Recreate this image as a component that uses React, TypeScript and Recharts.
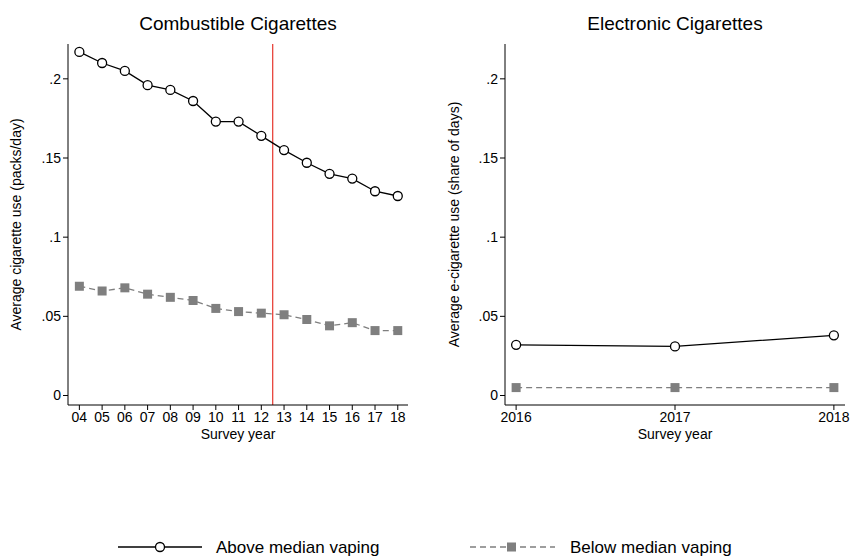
import React from 'react';
import { LineChart, Line, XAxis, YAxis, ReferenceLine } from 'recharts';

const years = [4, 5, 6, 7, 8, 9, 10, 11, 12, 13, 14, 15, 16, 17, 18];
const combAbove = [0.217, 0.21, 0.205, 0.196, 0.193, 0.186, 0.173, 0.173, 0.164, 0.155, 0.147, 0.14, 0.137, 0.129, 0.126];
const combBelow = [0.069, 0.066, 0.068, 0.064, 0.062, 0.06, 0.055, 0.053, 0.052, 0.051, 0.048, 0.044, 0.046, 0.041, 0.041];
const ecigYears = [2016, 2017, 2018];
const ecigAbove = [0.032, 0.031, 0.038];
const ecigBelow = [0.005, 0.005, 0.005];
const yTicks = [0, 0.05, 0.1, 0.15, 0.2];

const combData = years.map((y, i) => ({ year: y, above: combAbove[i], below: combBelow[i] }));
const ecigData = ecigYears.map((y, i) => ({ year: y, above: ecigAbove[i], below: ecigBelow[i] }));

const font = '"Liberation Sans", Arial, sans-serif';
const GRAY = '#7f7f7f';
const fmtY = (v: number) => (v === 0 ? '0' : String(v).replace(/^0/, ''));
const tickStyle = { fontSize: 14, fill: '#000', fontFamily: font };

const Circle = (p: any) => (
  <circle cx={p.cx} cy={p.cy} r={4.5} fill="#fff" stroke="#000" strokeWidth={1.3} />
);
const Square = (p: any) => (
  <rect x={p.cx - 4.5} y={p.cy - 4.5} width={9} height={9} fill={GRAY} />
);

function Panel(props: any) {
  const { data, xDomain, xTicks, xFmt, yLabel, ylWidth, ylOffset, width, red } = props;
  return (
    <LineChart width={width} height={450} data={data} margin={{ top: 44, right: 10, left: 0, bottom: 15 }}>
      <XAxis
        dataKey="year" type="number" domain={xDomain} ticks={xTicks} tickFormatter={xFmt}
        tick={tickStyle} tickSize={5} stroke="#000" height={30} interval={0}
        label={{ value: 'Survey year', position: 'insideBottom', offset: -4, fontSize: 14, fill: '#000', fontFamily: font }}
      />
      <YAxis
        type="number" domain={[-0.006, 0.222]} ticks={yTicks} tickFormatter={fmtY}
        tick={tickStyle} tickSize={5} stroke="#000" width={ylWidth} allowDataOverflow
        label={{ value: yLabel, angle: -90, position: 'insideLeft', offset: ylOffset, style: { textAnchor: 'middle' }, fontSize: 14, fill: '#000', fontFamily: font }}
      />
      {red && <ReferenceLine x={12.5} stroke="#e8453c" strokeWidth={1.3} />}
      <Line dataKey="above" stroke="#000" strokeWidth={1.3} dot={<Circle />} isAnimationActive={false} />
      <Line dataKey="below" stroke={GRAY} strokeWidth={1.3} strokeDasharray="6 4" dot={<Square />} isAnimationActive={false} />
    </LineChart>
  );
}

export default function App() {
  return (
    <div style={{ position: 'absolute', left: 0, top: 0, width: 855, height: 560, background: '#fff', fontFamily: font }}>
      <div style={{ position: 'absolute', left: 68, width: 340, top: 13, textAlign: 'center', fontSize: 19 }}>Combustible Cigarettes</div>
      <div style={{ position: 'absolute', left: 505, width: 340, top: 13, textAlign: 'center', fontSize: 19 }}>Electronic Cigarettes</div>
      <div style={{ position: 'absolute', left: 0, top: 0 }}>
        <Panel data={combData} width={418} xDomain={[3.5, 18.45]} xTicks={years}
          xFmt={(v: number) => String(v).padStart(2, '0')} yLabel="Average cigarette use (packs/day)" ylWidth={68} ylOffset={16} red />
      </div>
      <div style={{ position: 'absolute', left: 430, top: 0 }}>
        <Panel data={ecigData} width={425} xDomain={[2015.93, 2018.07]} xTicks={ecigYears}
          xFmt={(v: number) => String(v)} yLabel="Average e-cigarette use (share of days)" ylWidth={75} ylOffset={24} />
      </div>
      <svg style={{ position: 'absolute', left: 0, top: 520 }} width={855} height={40}>
        <line x1={118} x2={202} y1={27} y2={27} stroke="#000" strokeWidth={1.3} />
        <circle cx={160} cy={27} r={4.5} fill="#fff" stroke="#000" strokeWidth={1.3} />
        <text x={216} y={33} fontSize={17} fontFamily={font}>Above median vaping</text>
        <line x1={470} x2={555} y1={27} y2={27} stroke={GRAY} strokeWidth={1.3} strokeDasharray="6 4" />
        <rect x={507} y={22.5} width={9} height={9} fill={GRAY} />
        <text x={570} y={33} fontSize={17} fontFamily={font}>Below median vaping</text>
      </svg>
    </div>
  );
}
